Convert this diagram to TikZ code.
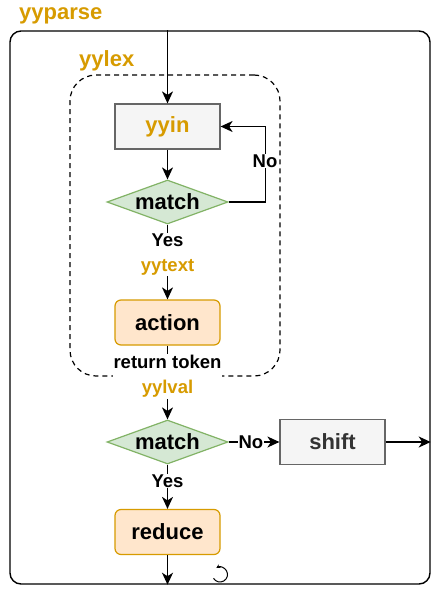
\documentclass[tikz,border=0pt]{standalone}
\usepackage{fontspec}
\setmainfont{Liberation Sans}
\usetikzlibrary{arrows.meta,shapes.geometric}
\definecolor{orng}{HTML}{D79B00}
\definecolor{greyfill}{HTML}{F5F5F5}
\definecolor{greyline}{HTML}{666666}
\definecolor{greenfill}{HTML}{D5E8D4}
\definecolor{greenline}{HTML}{82B366}
\definecolor{orfill}{HTML}{FFE6CC}
\definecolor{darktext}{HTML}{333333}
\begin{document}
\begin{tikzpicture}[x=1pt,y=-1pt,
  boxtext/.style={font=\fontsize{22}{26}\selectfont\bfseries},
  labtext/.style={font=\fontsize{18.5}{25}\selectfont\bfseries, fill=white, inner sep=1pt, align=center},
  titletext/.style={font=\fontsize{22}{26}\selectfont\bfseries, text=orng, anchor=west, inner sep=0},
  greybox/.style={draw=greyline, fill=greyfill, line width=1.2pt, minimum width=105pt, minimum height=45pt, inner sep=0},
  orbox/.style={draw=orng, fill=orfill, line width=1.2pt, rounded corners=6pt, minimum width=105pt, minimum height=45pt, inner sep=0},
  dia/.style={diamond, draw=greenline, fill=greenfill, line width=1.2pt, minimum width=121pt, minimum height=44pt, inner sep=0},
  arr/.style={line width=1.4pt, -{Stealth[length=12pt,width=11pt,inset=3.5pt]}},
  ln/.style={line width=1.4pt}
]
\useasboundingbox (0,0) rectangle (442,599);
\fill[white] (0,0) rectangle (442,599);

\node[draw, line width=1.4pt, rounded corners=11pt, minimum width=420pt, minimum height=553pt, inner sep=0] (outer) at (220,307.5) {};
\node[draw, dashed, line width=1.2pt, dash pattern=on 5pt off 4pt, rounded corners=26pt, minimum width=210pt, minimum height=301pt, inner sep=0] (lex) at (175,225.5) {};

\node[titletext] (tparse) at (19,16) {yyparse};
\node[titletext] (tlex) at (79,61) {yylex};

\node[greybox, boxtext, text=orng] (yyin) at (167.5,126.5) {yyin};
\node[dia] (m1) at (167.5,202) {};
\node[boxtext] (m1t) at (m1) {match};
\node[orbox, boxtext] (action) at (167.5,322.5) {action};
\node[dia] (m2) at (167.5,442) {};
\node[boxtext] (m2t) at (m2) {match};
\node[greybox, boxtext, text=darktext] (shift) at (332.5,442) {shift};
\node[orbox, boxtext] (reduce) at (167.5,532) {reduce};

\draw[arr] (outer.north -| yyin.north) -- (yyin.north);
\draw[arr] (yyin.south) -- (m1.north);
\draw[arr] (m1.east) -- ++(37,0) coordinate (c1) |- (yyin.east);
\node[labtext] (no1) at (265,161) {No};
\draw[arr] (m1.south) -- (action.north) node[labtext, pos=0.40] (yes1) {Yes\\\textcolor{orng}{yytext}};
\draw[arr] (action.south) -- (m2.north) node[labtext, pos=0.42] (ret) {return token\\\textcolor{orng}{yylval}};
\draw[arr] (m2.east) -- (shift.west) node[labtext, pos=0.44] (no2) {No};
\draw[arr] (shift.east) -- (shift.east -| outer.east);
\draw[arr] (m2.south) -- (reduce.north) node[labtext, pos=0.37] (yes2) {Yes};
\draw[arr] (reduce.south) -- (reduce.south |- outer.south);

\coordinate (lp) at (220,574.5);
\draw[line width=1pt, -{Stealth[length=4pt,width=4pt]}] (lp) ++(150:7.5) arc[start angle=150, end angle=-120, radius=7.5];
\end{tikzpicture}
\end{document}
